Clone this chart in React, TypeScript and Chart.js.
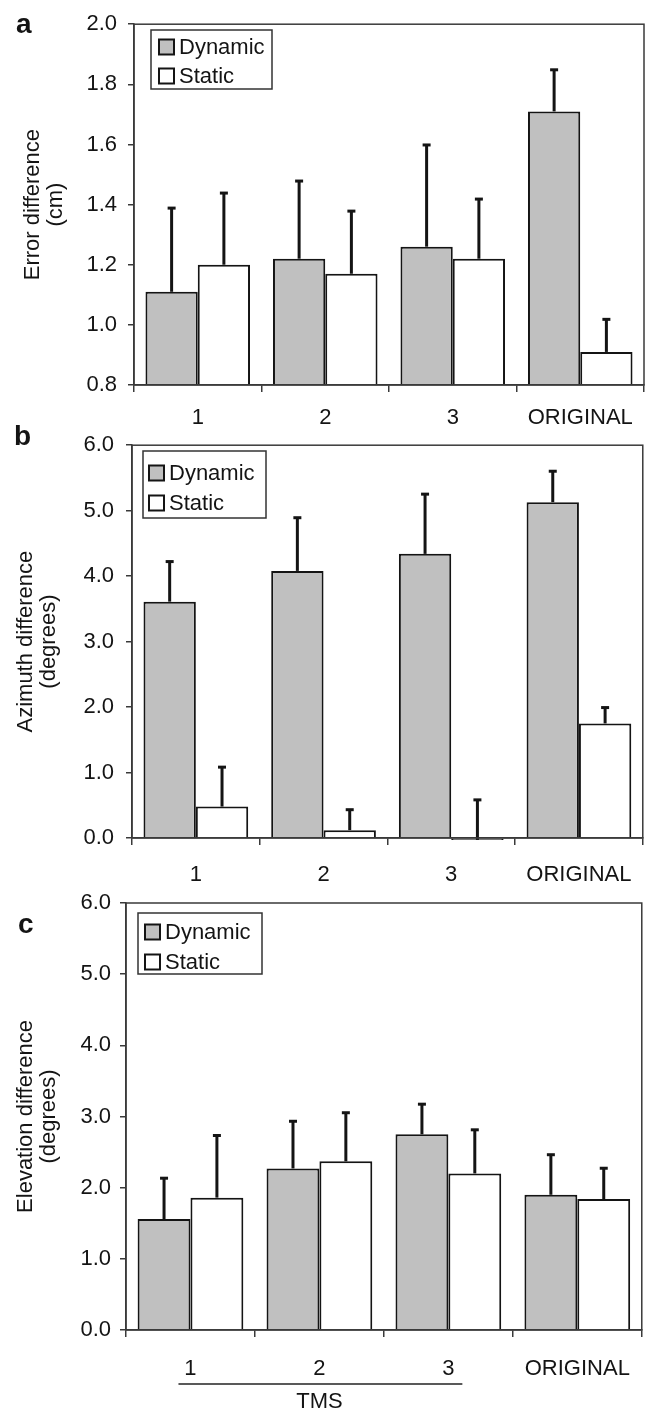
import React, { useEffect, useRef } from 'react';
import { Chart, registerables } from 'chart.js';

Chart.register(...registerables);

// ---------- data ----------
const categories = ['1', '2', '3', 'ORIGINAL'];
const seriesNames = ['Dynamic', 'Static'];

const errorDynamic = [1.11, 1.22, 1.26, 1.71];
const errorDynamicSD = [0.28, 0.26, 0.34, 0.14];
const errorStatic = [1.2, 1.17, 1.22, 0.91];
const errorStaticSD = [0.24, 0.21, 0.2, 0.11];

const azimuthDynamic = [3.61, 4.08, 4.34, 5.13];
const azimuthDynamicSD = [0.62, 0.82, 0.92, 0.48];
const azimuthStatic = [0.48, 0.12, -0.03, 1.75];
const azimuthStaticSD = [0.61, 0.32, 0.62, 0.25];

const elevationDynamic = [1.56, 2.27, 2.75, 1.9];
const elevationDynamicSD = [0.58, 0.67, 0.43, 0.57];
const elevationStatic = [1.86, 2.37, 2.2, 1.84];
const elevationStaticSD = [0.88, 0.69, 0.62, 0.44];

const errorTicks = [0.8, 1.0, 1.2, 1.4, 1.6, 1.8, 2.0];
const degreeTicks = [0, 1, 2, 3, 4, 5, 6];

const groupLabel = 'TMS';

// ---------- style ----------
const FONT = '"Liberation Sans", Arial, Helvetica, sans-serif';
const FS = 22;
const DYN_FILL = '#c0c0c0';
const STAT_FILL = '#ffffff';
const INK = '#141414';
const FRAME = '#3a3a3a';

type PanelCfg = {
  letter: string;
  title: string[];
  dyn: number[];
  dynSD: number[];
  stat: number[];
  statSD: number[];
  ticks: number[];
  top: number;
  height: number;
  area: { left: number; right: number; top: number; bottom: number };
  titlePad: number;
  tickPad: number;
  labelPad: number;
  letterPos: { x: number; y: number };
  legend: { x: number; y: number; w: number; h: number; r1: number; r2: number; sq: number; tx: number };
  tms: boolean;
};

const panels: PanelCfg[] = [
  {
    letter: 'a',
    title: ['Error difference', '(cm)'],
    dyn: errorDynamic,
    dynSD: errorDynamicSD,
    stat: errorStatic,
    statSD: errorStaticSD,
    ticks: errorTicks,
    top: 0,
    height: 440,
    area: { left: 134, right: 644, top: 20, bottom: 385 },
    titlePad: 21,
    tickPad: 11,
    labelPad: 13,
    letterPos: { x: 16, y: 33 },
    legend: { x: 151, y: 30, w: 121, h: 59, r1: 47, r2: 76, sq: 159, tx: 179 },
    tms: false,
  },
  {
    letter: 'b',
    title: ['Azimuth difference', '(degrees)'],
    dyn: azimuthDynamic,
    dynSD: azimuthDynamicSD,
    stat: azimuthStatic,
    statSD: azimuthStaticSD,
    ticks: degreeTicks,
    top: 420,
    height: 480,
    area: { left: 132, right: 645, top: 441, bottom: 838 },
    titlePad: 14,
    tickPad: 12,
    labelPad: 17,
    letterPos: { x: 14, y: 445 },
    legend: { x: 143, y: 451, w: 123, h: 67, r1: 473, r2: 503, sq: 149, tx: 169 },
    tms: false,
  },
  {
    letter: 'c',
    title: ['Elevation difference', '(degrees)'],
    dyn: elevationDynamic,
    dynSD: elevationDynamicSD,
    stat: elevationStatic,
    statSD: elevationStaticSD,
    ticks: degreeTicks,
    top: 880,
    height: 532,
    area: { left: 126, right: 648, top: 903, bottom: 1330 },
    titlePad: 14,
    tickPad: 9,
    labelPad: 19,
    letterPos: { x: 18, y: 933 },
    legend: { x: 138, y: 913, w: 124, h: 61, r1: 932, r2: 962, sq: 145, tx: 165 },
    tms: true,
  },
];

function Panel({ cfg }: { cfg: PanelCfg }) {
  const ref = useRef<HTMLCanvasElement>(null);

  useEffect(() => {
    const canvas = ref.current;
    if (!canvas) return;
    const off = cfg.top;
    const sds = [cfg.dynSD, cfg.statSD];

    const overlay = {
      id: 'overlay' + cfg.letter,
      afterDatasetsDraw(chart: any) {
        const ctx = chart.ctx as CanvasRenderingContext2D;
        const ca = chart.chartArea;
        const yScale = chart.scales.y;
        const xScale = chart.scales.x;
        ctx.save();

        // error bars
        ctx.strokeStyle = INK;
        ctx.lineCap = 'butt';
        chart.data.datasets.forEach((ds: any, i: number) => {
          const meta = chart.getDatasetMeta(i);
          meta.data.forEach((el: any, j: number) => {
            const v = ds.data[j] as number;
            const top = yScale.getPixelForValue(v + sds[i][j]);
            const x = el.x;
            ctx.lineWidth = 3;
            ctx.beginPath();
            ctx.moveTo(x, el.y);
            ctx.lineTo(x, top);
            ctx.stroke();
            ctx.beginPath();
            ctx.moveTo(x - 4, top + 0.5);
            ctx.lineTo(x + 4, top + 0.5);
            ctx.stroke();
          });
        });

        // frame
        ctx.strokeStyle = FRAME;
        ctx.lineWidth = 1.5;
        ctx.strokeRect(ca.left, ca.top, ca.right - ca.left, ca.bottom - ca.top);

        // legend
        const lg = cfg.legend;
        ctx.fillStyle = '#ffffff';
        ctx.fillRect(lg.x, lg.y - off, lg.w, lg.h);
        ctx.strokeStyle = '#333333';
        ctx.lineWidth = 1.5;
        ctx.strokeRect(lg.x, lg.y - off, lg.w, lg.h);
        const rows = [lg.r1, lg.r2];
        const fills = [DYN_FILL, STAT_FILL];
        rows.forEach((ry, k) => {
          const s = 15;
          ctx.fillStyle = fills[k];
          ctx.fillRect(lg.sq, ry - off - s / 2, s, s);
          ctx.strokeStyle = INK;
          ctx.lineWidth = 2;
          ctx.strokeRect(lg.sq, ry - off - s / 2, s, s);
          ctx.fillStyle = INK;
          ctx.font = `${FS}px ${FONT}`;
          ctx.textAlign = 'left';
          ctx.textBaseline = 'middle';
          ctx.fillText(seriesNames[k], lg.tx, ry - off + 1);
        });

        // panel letter
        ctx.fillStyle = INK;
        ctx.font = `bold 28px ${FONT}`;
        ctx.textAlign = 'left';
        ctx.textBaseline = 'alphabetic';
        ctx.fillText(cfg.letter, cfg.letterPos.x, cfg.letterPos.y - off);

        // TMS grouping line
        if (cfg.tms) {
          const x0 = xScale.getPixelForValue(0) - 12;
          const x1 = xScale.getPixelForValue(2) + 14;
          const ly = 1384 - off;
          ctx.strokeStyle = '#222222';
          ctx.lineWidth = 1.5;
          ctx.beginPath();
          ctx.moveTo(x0, ly);
          ctx.lineTo(x1, ly);
          ctx.stroke();
          ctx.fillStyle = INK;
          ctx.font = `${FS}px ${FONT}`;
          ctx.textAlign = 'center';
          ctx.textBaseline = 'middle';
          const mid = (xScale.getPixelForValue(0) + xScale.getPixelForValue(2)) / 2;
          ctx.fillText(groupLabel, mid, 1402 - off);
        }
        ctx.restore();
      },
    };

    const yMin = cfg.ticks[0];
    const yMax = cfg.ticks[cfg.ticks.length - 1];

    const chart = new Chart(canvas, {
      type: 'bar',
      data: {
        labels: categories,
        datasets: [
          {
            label: seriesNames[0],
            data: cfg.dyn,
            backgroundColor: DYN_FILL,
            borderColor: INK,
            borderWidth: 2,
            base: yMin,
            categoryPercentage: 0.82,
            barPercentage: 1.0,
            clip: false as any,
          } as any,
          {
            label: seriesNames[1],
            data: cfg.stat,
            backgroundColor: STAT_FILL,
            borderColor: INK,
            borderWidth: 2,
            base: yMin,
            categoryPercentage: 0.82,
            barPercentage: 1.0,
            clip: false as any,
          } as any,
        ],
      },
      options: {
        animation: false,
        responsive: false,
        maintainAspectRatio: false,
        events: [],
        layout: {
          padding: {
            top: cfg.area.top - off,
            right: 649 - cfg.area.right,
            left: 0,
            bottom: 0,
          },
        },
        plugins: {
          legend: { display: false },
          tooltip: { enabled: false },
          title: { display: false },
        },
        scales: {
          x: {
            type: 'category',
            grid: {
              offset: true,
              drawOnChartArea: false,
              drawTicks: true,
              tickLength: 7,
              color: FRAME,
              lineWidth: 1.5,
            },
            border: { display: true, color: FRAME, width: 1.5 },
            ticks: {
              color: INK,
              font: { family: FONT, size: FS },
              padding: cfg.labelPad,
              maxRotation: 0,
              minRotation: 0,
              autoSkip: false,
            },
            afterFit: (s: any) => {
              s.height = off + cfg.height - cfg.area.bottom;
            },
          },
          y: {
            type: 'linear',
            min: yMin,
            max: yMax,
            grid: {
              drawOnChartArea: false,
              drawTicks: true,
              tickLength: 6,
              color: FRAME,
              lineWidth: 1.5,
            },
            border: { display: true, color: FRAME, width: 1.5 },
            ticks: {
              color: INK,
              font: { family: FONT, size: FS },
              padding: cfg.tickPad,
              callback: (v: any) => Number(v).toFixed(1),
            },
            afterBuildTicks: (s: any) => {
              s.ticks = cfg.ticks.map((v) => ({ value: v }));
            },
            afterFit: (s: any) => {
              s.width = cfg.area.left;
            },
            title: {
              display: true,
              text: cfg.title,
              color: INK,
              font: { family: FONT, size: FS, lineHeight: 1.05 },
              padding: { top: cfg.titlePad, bottom: 0 },
            },
          },
        },
      },
      plugins: [overlay],
    } as any);

    return () => chart.destroy();
  }, [cfg]);

  return (
    <canvas
      ref={ref}
      width={649}
      height={cfg.height}
      style={{ position: 'absolute', left: 0, top: cfg.top, width: 649, height: cfg.height }}
    />
  );
}

export default function App() {
  return (
    <div
      style={{
        position: 'absolute',
        left: 0,
        top: 0,
        width: 649,
        height: 1412,
        background: '#ffffff',
        overflow: 'hidden',
      }}
    >
      {panels.map((p) => (
        <Panel key={p.letter} cfg={p} />
      ))}
    </div>
  );
}
